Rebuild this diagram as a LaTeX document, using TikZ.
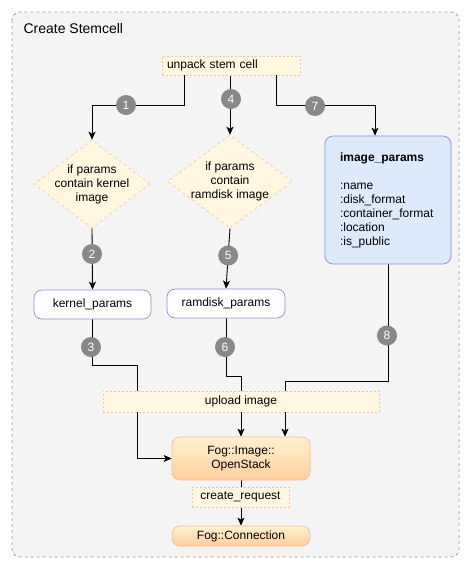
\documentclass[tikz,border=0pt]{standalone}
\usepackage{fontspec}
\setmainfont{Liberation Sans}
\usetikzlibrary{shapes.geometric,arrows.meta}

\definecolor{panelfill}{HTML}{F4F4F4}
\definecolor{panelline}{HTML}{9A9A9A}
\definecolor{notefill}{HTML}{FFF7E0}
\definecolor{noteline}{HTML}{FFC2A2}
\definecolor{bluefill}{HTML}{DCEAFC}
\definecolor{blueline}{HTML}{8194D6}
\definecolor{fogtop}{HTML}{FFF1CF}
\definecolor{fogbottom}{HTML}{FFCF9F}
\definecolor{fogline}{HTML}{FFB89A}
\definecolor{badge}{HTML}{888888}

\pgfdeclarelayer{panel}
\pgfdeclarelayer{edges}
\pgfsetlayers{panel,edges,main}

\tikzset{
  txt/.style={font=\fontsize{12}{14}\selectfont},
  note/.style={txt, draw=noteline, fill=notefill, dash pattern=on 2pt off 2pt,
    line width=0.6pt, inner sep=0pt},
  decision/.style={diamond, txt, draw=noteline, fill=notefill,
    dash pattern=on 3pt off 3pt, line width=0.6pt, inner sep=0pt},
  param/.style={txt, draw=blueline, fill=white, rounded corners=8pt,
    line width=0.7pt, inner sep=0pt},
  fog/.style={txt, draw=fogline, top color=fogtop, bottom color=fogbottom,
    rounded corners=8pt, line width=0.7pt, inner sep=0pt, align=center},
  badgenode/.style={circle, fill=badge, text=white, minimum size=20pt,
    inner sep=0pt, font=\fontsize{12}{14}\selectfont},
  flow/.style={draw=black, line width=0.9pt,
    -{Stealth[length=8pt,width=7pt,inset=2pt]}},
  plain/.style={draw=black, line width=0.9pt}
}

\begin{document}
\begin{tikzpicture}[x=1pt,y=-1pt]
\useasboundingbox (0,0) rectangle (471,568);

% outer frame
\begin{pgfonlayer}{panel}
  \draw[fill=panelfill, draw=panelline, rounded corners=8pt,
    dash pattern=on 3pt off 3pt, line width=0.8pt] (12,12) rectangle (459,557);
\end{pgfonlayer}
\node[anchor=west, font=\fontsize{14}{16}\selectfont] (title) at (20,28) {Create Stemcell};

% nodes
\node[note, minimum width=138pt, minimum height=19pt, text width=128pt,
  align=left, inner xsep=5pt] (unpack) at (231,65.5) {unpack stem cell};

\node[decision, minimum width=116pt, minimum height=88pt] (d1) at (92,184) {};
\node[txt, align=center] (d1t) at (92,184) {if params\\contain kernel\\image};
\node[decision, minimum width=125pt, minimum height=93pt] (d2) at (230,181.5) {};
\node[txt, align=center] (d2t) at (230,181.5) {if params\\contain\\ramdisk image};

\node[txt, draw=blueline, fill=bluefill, rounded corners=8pt, line width=0.7pt,
  minimum width=126pt, minimum height=128pt, text width=96pt, inner xsep=15pt,
  inner ysep=0pt, align=left] (ip) at (388,200)
  {\textbf{image\_params}\\\mbox{}\\:name\\:disk\_format\\:container\_format\\:location\\:is\_public};

\node[param, minimum width=117pt, minimum height=29pt] (kp) at (92.5,304.5) {kernel\_params};
\node[param, minimum width=118pt, minimum height=29pt] (rp) at (226,303.5) {ramdisk\_params};

\node[note, minimum width=276pt, minimum height=21pt] (up) at (241,401.5) {upload image};
\node[fog, minimum width=138pt, minimum height=43pt] (os) at (241,458.5) {Fog::Image::\\OpenStack};
\node[note, minimum width=97pt, minimum height=20pt] (cr) at (240.5,497) {create\_request};
\node[fog, minimum width=138pt, minimum height=20pt] (fc) at (241,536) {Fog::Connection};

% connectors
\begin{pgfonlayer}{edges}
  \draw[flow] ([xshift=23pt]unpack.south west) -- ++(0,30) -| (d1.north);
  \draw[flow] (unpack.south -| d2.north) -- (d2.north);
  \draw[flow] ([xshift=-24pt]unpack.south east) -- ++(0,30) -| ([xshift=-13pt]ip.north);
  \draw[flow] (d1.south) -- (kp.north);
  \draw[flow] (d2.south) -- (rp.north);
  \draw[flow] (kp.south) -- ++(0,46) -- ++(45,0) |- (os.west);
  \draw[flow] (rp.south) -- ++(0,58) -| (os.north);
  \draw[flow] (ip.south) -- ++(0,117) -| ([xshift=44pt]os.north);
  \draw[flow] (os.south) -- (fc.north);
\end{pgfonlayer}

% step badges
\node[badgenode] (b1) at (126,105) {1};
\node[badgenode] (b2) at (92,254) {2};
\node[badgenode] (b3) at (91,347) {3};
\node[badgenode] (b4) at (231,99) {4};
\node[badgenode] (b5) at (228.2,255.5) {5};
\node[badgenode] (b6) at (225,347) {6};
\node[badgenode] (b7) at (315,106) {7};
\node[badgenode] (b8) at (387,335.5) {8};
\end{tikzpicture}
\end{document}
